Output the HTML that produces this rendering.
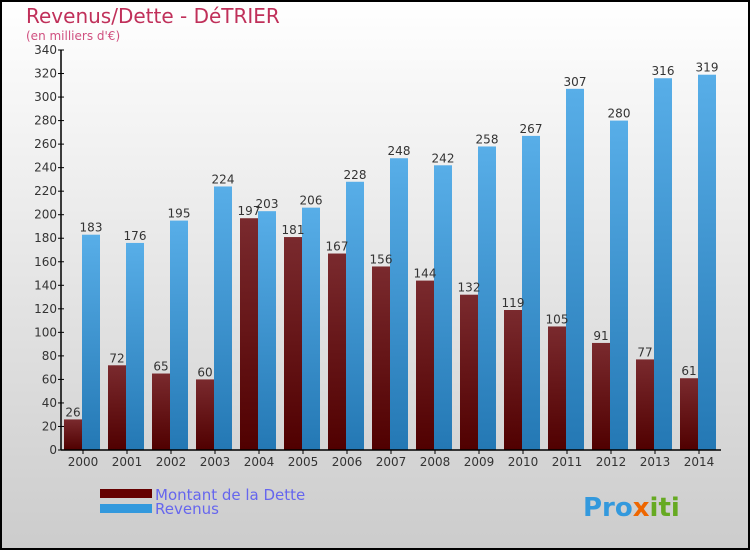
<!DOCTYPE html>
<html><head><meta charset="utf-8"><style>
body{margin:0}
#c{position:relative;width:750px;height:550px;overflow:hidden;font-family:"DejaVu Sans","Liberation Sans",sans-serif}
</style></head><body>
<div id="c">
<svg width="750" height="550" xmlns="http://www.w3.org/2000/svg" id="svg">
<defs>
<linearGradient id="bg" x1="0" y1="0" x2="0" y2="1"><stop offset="0" stop-color="#ffffff"/><stop offset="1" stop-color="#cccccc"/></linearGradient>
<linearGradient id="gd" x1="0" y1="0" x2="0" y2="1"><stop offset="0" stop-color="#7a2a2e"/><stop offset="1" stop-color="#500000"/></linearGradient>
<linearGradient id="gr" x1="0" y1="0" x2="0" y2="1"><stop offset="0" stop-color="#58aee8"/><stop offset="1" stop-color="#2478b4"/></linearGradient>
</defs>
<rect x="1" y="1" width="748" height="548" fill="url(#bg)" stroke="#000" stroke-width="2"/>
<text x="26" y="23" font-size="20" fill="#c0305a">Revenus/Dette - DéTRIER</text>
<text x="26" y="40" font-size="12" fill="#d05080">(en milliers d'€)</text>
<g id="plot"></g>
<rect x="100" y="489" width="52" height="9" fill="#660000"/>
<rect x="100" y="504" width="52" height="9" fill="#3399dd"/>
<text x="155" y="500" font-size="15" fill="#6666ee">Montant de la Dette</text>
<text x="155" y="514" font-size="15" fill="#6666ee">Revenus</text>
<text x="583" y="516" font-size="26" font-weight="bold" fill="#3399dd">Pro<tspan fill="#ee6600">x</tspan><tspan fill="#66aa22">iti</tspan></text>
</svg>
</div>
<script>
const years=["2000","2001","2002","2003","2004","2005","2006","2007","2008","2009","2010","2011","2012","2013","2014"];
const dette=[26,72,65,60,197,181,167,156,144,132,119,105,91,77,61];
const revenus=[183,176,195,224,203,206,228,248,242,258,267,307,280,316,319];
const yTicks=[0,20,40,60,80,100,120,140,160,180,200,220,240,260,280,300,320,340];
const NS="http://www.w3.org/2000/svg";
const g=document.getElementById('plot');
const x0=61,pitch=44,yB=450,yT=50,yMax=340;
function y(v){return yB-(v/yMax)*(yB-yT);}
function gx(i){return x0+i*pitch;}
function mk(t,a){const e=document.createElementNS(NS,t);for(const k in a)e.setAttribute(k,a[k]);g.appendChild(e);return e;}
yTicks.forEach(v=>{
  const l=mk('line',{x1:x0-3,x2:x0+3,y1:y(v),y2:y(v),stroke:'#000'});
  
  
  const t=mk('text',{x:x0-4,y:y(v)+4,'font-size':12,fill:'#333','text-anchor':'end'});
  t.textContent=v;
  
  
});
years.forEach((yr,i)=>{
  const bx=gx(i)+3;
  const d=mk('rect',{x:bx,y:y(dette[i]),width:18,height:yB-y(dette[i]),fill:'url(#gd)'});
  
  
  const r=mk('rect',{x:bx+18,y:y(revenus[i]),width:18,height:yB-y(revenus[i]),fill:'url(#gr)'});
  
  
  const td=mk('text',{x:bx+9,y:y(dette[i])-3,'font-size':12,fill:'#333','text-anchor':'middle'});
  td.textContent=dette[i];
  
  
  const tr=mk('text',{x:bx+27,y:y(revenus[i])-3,'font-size':12,fill:'#333','text-anchor':'middle'});
  tr.textContent=revenus[i];
  
  
  const tk=mk('line',{x1:gx(i)+22,x2:gx(i)+22,y1:yB,y2:yB+4,stroke:'#000'});
  
  
  const xl=mk('text',{x:gx(i)+22,y:466,'font-size':12,fill:'#333','text-anchor':'middle'});
  xl.textContent=yr;
  
  
});
const ya=mk('line',{x1:x0,x2:x0,y1:yT,y2:yB,stroke:'#000','stroke-width':1.5});


const xa=mk('line',{x1:x0,x2:x0+pitch*years.length,y1:yB,y2:yB,stroke:'#000','stroke-width':1.5});


</script>
</body></html>
